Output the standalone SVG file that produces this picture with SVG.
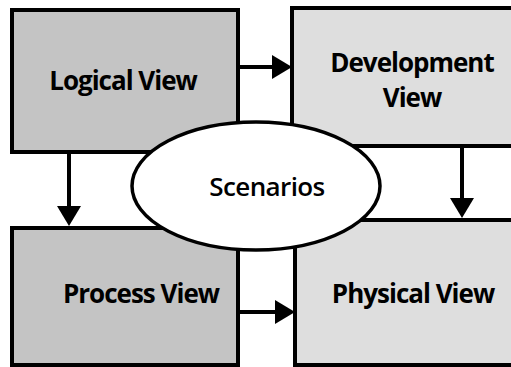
<svg xmlns="http://www.w3.org/2000/svg" width="511" height="367" viewBox="0 0 511 367">
  <style>
    .box { stroke: #000; stroke-width: 4; }
    .dense { fill: #c4c4c4; }
    .light { fill: #dedede; }
    .label { font-family: "Open Sans", "Liberation Sans", sans-serif; font-weight: bold; font-size: 26px; letter-spacing: -1px; fill: #000; text-anchor: middle; dominant-baseline: central; }
    .conn { stroke: #000; stroke-width: 4; fill: none; }
    .hub { fill: #fff; stroke: #000; stroke-width: 3.5; }
    .hub-label { font-family: "Open Sans", "Liberation Sans", sans-serif; font-weight: 600; font-size: 26px; letter-spacing: -0.6px; fill: #000; text-anchor: middle; dominant-baseline: central; }
  </style>
  <defs>
    <marker id="head" markerUnits="userSpaceOnUse" markerWidth="22" markerHeight="26" refX="0" refY="12" orient="auto">
      <path d="M0,0 L20,12 L0,24 Z" fill="#000"/>
    </marker>
  </defs>
  <rect width="511" height="367" fill="#fff"/>

  <g id="logical-view">
    <rect class="box dense" x="12" y="10" width="226" height="142"/>
    <text class="label" x="123" y="80">Logical View</text>
  </g>

  <g id="development-view">
    <rect class="box light" x="292" y="8" width="240" height="138"/>
    <text class="label" x="412" y="62">Development</text>
    <text class="label" x="412" y="97">View</text>
  </g>

  <g id="process-view">
    <rect class="box dense" x="12" y="228" width="226" height="137"/>
    <text class="label" x="141" y="293">Process View</text>
  </g>

  <g id="physical-view">
    <rect class="box light" x="295" y="220" width="240" height="145"/>
    <text class="label" x="413" y="293">Physical View</text>
  </g>

  <g id="connectors">
    <line class="conn" x1="240" y1="67" x2="272" y2="67" marker-end="url(#head)"/>
    <line class="conn" x1="240" y1="312" x2="275" y2="312" marker-end="url(#head)"/>
    <line class="conn" x1="69" y1="154" x2="69" y2="206" marker-end="url(#head)"/>
    <line class="conn" x1="462" y1="148" x2="462" y2="198" marker-end="url(#head)"/>
  </g>

  <g id="scenarios">
    <ellipse class="hub" cx="256" cy="186" rx="124" ry="64"/>
    <text class="hub-label" x="267" y="186">Scenarios</text>
  </g>
</svg>
